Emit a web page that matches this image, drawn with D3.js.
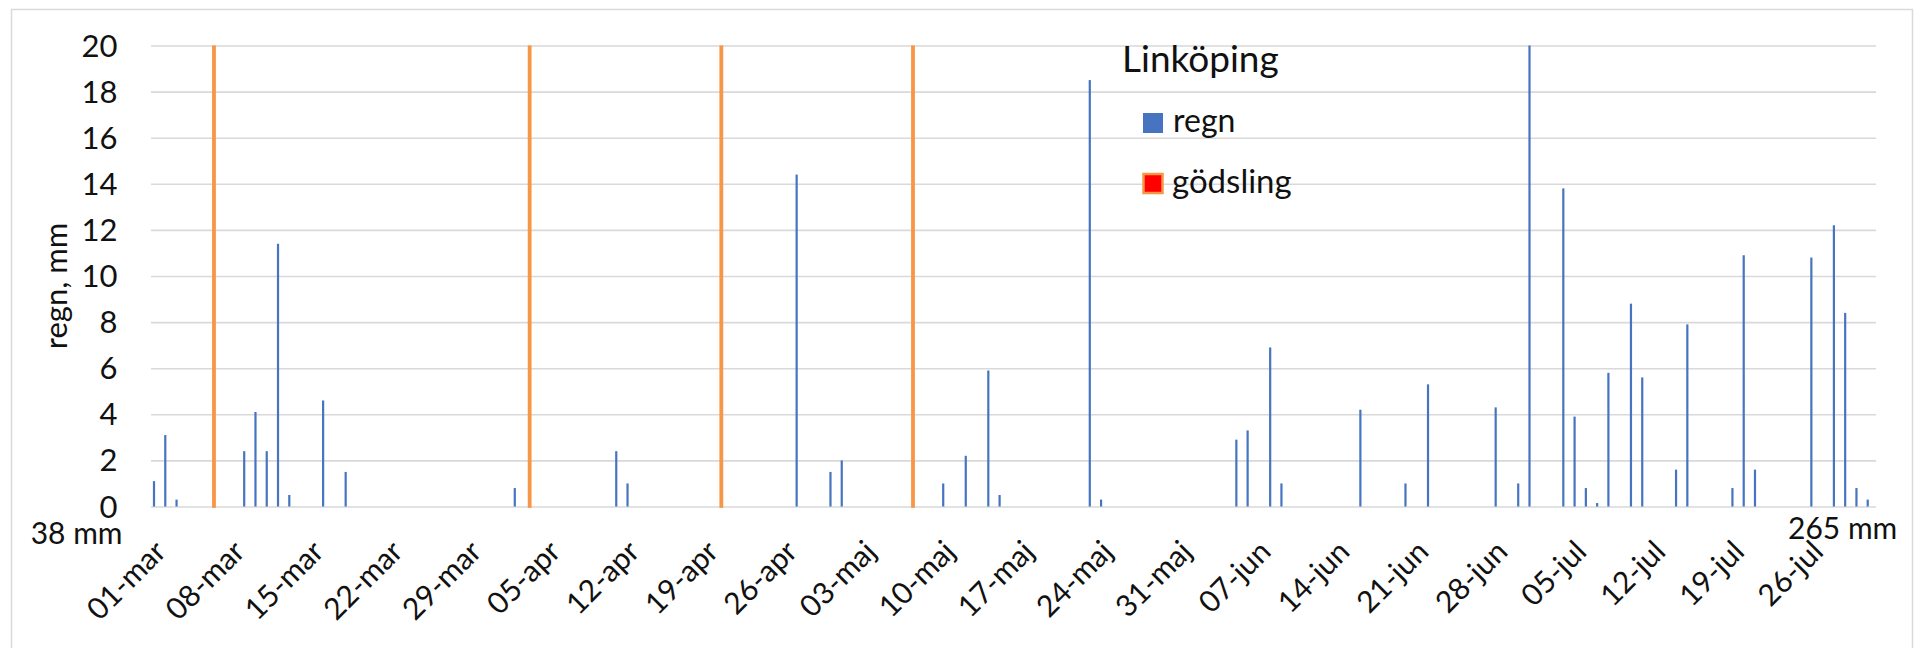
<!DOCTYPE html>
<html>
<head>
<meta charset="utf-8">
<script src="https://cdn.jsdelivr.net/npm/d3@7/dist/d3.min.js"></script>
<style>
  html, body { margin: 0; padding: 0; background: #fff; }
  svg { display: block; }
  text { font-family: Lato, "Noto Sans", sans-serif; fill: #111; }
</style>
</head>
<body>
<svg id="chart" width="1915" height="648"></svg>
<script>
// ---- data ----
const monthNames = ["jan","feb","mar","apr","maj","jun","jul","aug","sep","okt","nov","dec"];
const firstDay = "2019-03-01";
const lastDay = "2019-07-31";
const tickLabels = ["01-mar","08-mar","15-mar","22-mar","29-mar","05-apr","12-apr","19-apr","26-apr",
  "03-maj","10-maj","17-maj","24-maj","31-maj","07-jun","14-jun","21-jun","28-jun",
  "05-jul","12-jul","19-jul","26-jul"];
const regnDates = ["01-mar","02-mar","03-mar","09-mar","10-mar","11-mar","12-mar","13-mar","16-mar","18-mar",
  "02-apr","11-apr","12-apr","27-apr","30-apr",
  "01-maj","10-maj","12-maj","14-maj","15-maj","23-maj","24-maj",
  "05-jun","06-jun","08-jun","09-jun","16-jun","20-jun","22-jun","28-jun","30-jun",
  "01-jul","04-jul","05-jul","06-jul","07-jul","08-jul","10-jul","11-jul","14-jul","15-jul",
  "19-jul","20-jul","21-jul","26-jul","28-jul","29-jul","30-jul","31-jul"];
const regnValues = [1.1,3.1,0.3,2.4,4.1,2.4,11.4,0.5,4.6,1.5,
  0.8,2.4,1.0,14.4,1.5,
  2.0,1.0,2.2,5.9,0.5,18.5,0.3,
  2.9,3.3,6.9,1.0,4.2,1.0,5.3,4.3,1.0,
  20.0,13.8,3.9,0.8,0.15,5.8,8.8,5.6,1.6,7.9,
  0.8,10.9,1.6,10.8,12.2,8.4,0.8,0.3];
const godslingDates = ["06-mar","03-apr","20-apr","07-maj"];
const godslingValues = [20,20,20,20];
const yTicks = [0,2,4,6,8,10,12,14,16,18,20];
const seriesNames = ["regn","gödsling"];
const legendTitle = "Linköping";
const yTitle = "regn, mm";
const startNote = "38 mm";
const endNote = "265 mm";

// ---- layout ----
const svg = d3.select("#chart");
const pLeft = 151, pRight = 1876, pTop = 45.5, pBottom = 506.5;
const blue = "#4674C0", orange = "#F79646", red = "#FF0000", grid = "#D9D9D9";

const parse = d3.timeParse("%Y-%m-%d");
const fmt = d => d3.timeFormat("%d")(d) + "-" + monthNames[d.getMonth()];
const days = d3.timeDay.range(parse(firstDay), d3.timeDay.offset(parse(lastDay), 1)).map(fmt);

const x = d3.scaleBand().domain(days).range([pLeft, pRight]).padding(0);
const y = d3.scaleLinear().domain([0, 20]).range([pBottom, pTop]);
const bw = x.bandwidth();

// outer border
svg.append("rect").attr("x", 11.5).attr("y", 9.5).attr("width", 1901).attr("height", 660)
  .attr("fill", "none").attr("stroke", grid).attr("stroke-width", 1.5);

// gridlines
const yAxis = d3.axisLeft(y).tickValues(yTicks).tickSize(-(pRight - pLeft)).tickPadding(0).tickFormat("");
const gy = svg.append("g").attr("transform", `translate(${pLeft},0)`).call(yAxis);
gy.select(".domain").remove();
gy.selectAll(".tick line").attr("stroke", grid).attr("stroke-width", 1.6);

// y tick labels
svg.append("g").selectAll("text").data(yTicks).join("text")
  .attr("x", 117.5).attr("y", d => y(d) + 11)
  .attr("text-anchor", "end").attr("font-size", 31).text(d => d);

// regn bars
const regn = regnDates.map((d, i) => ({date: d, value: regnValues[i]}));
svg.append("g").selectAll("rect").data(regn).join("rect")
  .attr("x", d => x(d.date) + 1.9)
  .attr("width", 2.2)
  .attr("y", d => y(d.value))
  .attr("height", d => y(0) - y(d.value))
  .attr("fill", blue);

// gödsling bars (red fill, orange outline)
const gods = godslingDates.map((d, i) => ({date: d, value: godslingValues[i]}));
svg.append("g").selectAll("rect").data(gods).join("rect")
  .attr("x", d => x(d.date) + 6.0)
  .attr("width", 1.2)
  .attr("y", d => y(d.value) + 1.2)
  .attr("height", d => y(0) - y(d.value) - 1.2)
  .attr("fill", red).attr("stroke", orange).attr("stroke-width", 2.6);

// x tick labels (rotated -45°)
svg.append("g").selectAll("text").data(tickLabels).join("text")
  .attr("transform", d => `translate(${x(d) + bw / 2 + 11},${pBottom + 47}) rotate(-45)`)
  .attr("text-anchor", "end")
  .attr("font-size", 30)
  .text(d => d);

// notes under axis
svg.append("text").attr("x", 122.5).attr("y", 544).attr("text-anchor", "end")
  .attr("font-size", 30).text(startNote);
svg.append("text").attr("x", 1788).attr("y", 539).attr("text-anchor", "start")
  .attr("font-size", 30).text(endNote);

// y title
svg.append("text").attr("transform", "translate(67,286) rotate(-90)")
  .attr("text-anchor", "middle").attr("font-size", 31).text(yTitle);

// legend
const lg = svg.append("g");
lg.append("text").attr("x", 1122).attr("y", 72).attr("font-size", 37).text(legendTitle);
lg.append("rect").attr("x", 1143).attr("y", 113).attr("width", 20).attr("height", 20).attr("fill", blue);
lg.append("text").attr("x", 1173).attr("y", 132).attr("font-size", 32).text(seriesNames[0]);
lg.append("rect").attr("x", 1143.5).attr("y", 174).attr("width", 19).attr("height", 19)
  .attr("fill", red).attr("stroke", orange).attr("stroke-width", 2.5);
lg.append("text").attr("x", 1172).attr("y", 193).attr("font-size", 33).text(seriesNames[1]);
</script>
</body>
</html>
